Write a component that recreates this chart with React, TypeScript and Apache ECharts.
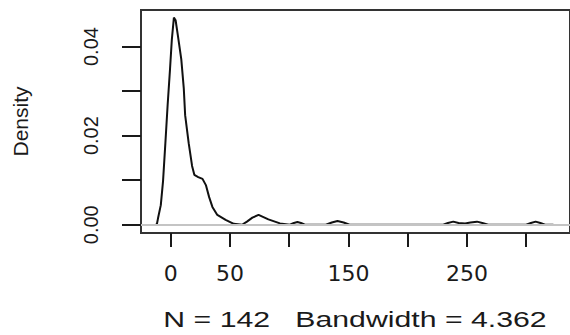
import React, { useEffect, useRef } from "react";
import * as echarts from "echarts";

// Kernel density estimate (x in data units, y = density)
const densityX = [
  -13, -11.7, -10.6, -8.3, -6.4, -4.4, -2.5, -0.5, 1, 2.75, 4.2, 6.1, 9, 11.1,
  12.25, 15.25, 18.1, 20, 23.3, 26.9, 29.75, 32.5, 35.25, 39.4, 46.4, 53.3,
  60.25, 64.4, 69, 74.2, 82.5, 92.25, 100.6, 104, 107, 110, 113.3, 131, 136,
  140.8, 146, 151, 230, 234, 238.5, 243, 248.5, 253, 258.5, 263, 268, 300, 304,
  308, 312, 316, 323,
];
const densityY = [
  0, 0, 0.0015, 0.0044, 0.0098, 0.0185, 0.027, 0.035, 0.0415, 0.0465, 0.0459,
  0.0425, 0.0371, 0.0306, 0.0246, 0.0183, 0.0132, 0.0112, 0.0107, 0.0103,
  0.0089, 0.0062, 0.004, 0.0022, 0.0011, 0.0002, 0, 0.0007, 0.0016, 0.0022,
  0.0012, 0.0003, 0, 0.0004, 0.0006, 0.0004, 0, 0, 0.0005, 0.00085, 0.0005, 0,
  0, 0.0004, 0.0007, 0.0004, 0.0003, 0.0005, 0.0007, 0.0004, 0, 0, 0.0004,
  0.0007, 0.0004, 0, 0,
];

const xTicks = [0, 50, 100, 150, 200, 250, 300];
const xTickLabels = [0, 50, 150, 250];
const yTicks = [0, 0.01, 0.02, 0.03, 0.04];
const yTickLabels = [0, 0.02, 0.04];

const yTitle = "Density";
const subTitle = "N = 142   Bandwidth = 4.362";

export default function App() {
  const ref = useRef<HTMLDivElement>(null);

  useEffect(() => {
    document.body.style.margin = "0";
    if (!ref.current) return;
    const chart = echarts.init(ref.current, null, { renderer: "svg" });
    const data = densityX.map((x, i) => [x, densityY[i]]);
    const ink = "#1a1a1a";
    chart.setOption({
      animation: false,
      backgroundColor: "#ffffff",
      grid: {
        left: 141,
        top: 10,
        right: -5,
        bottom: 102,
        show: true,
        borderColor: "#333333",
        borderWidth: 2,
        containLabel: false,
      },
      xAxis: {
        type: "value",
        min: -25,
        max: 337,
        splitLine: { show: false },
        axisLine: { show: false, onZero: false },
        axisTick: {
          show: true,
          length: 14,
          customValues: xTicks,
          lineStyle: { color: ink, width: 2 },
        },
        axisLabel: {
          customValues: xTickLabels,
          margin: 29,
          fontFamily: "DejaVu Sans",
          fontSize: 22,
          color: ink,
        },
      },
      yAxis: {
        type: "value",
        min: -0.00185,
        max: 0.0482,
        splitLine: { show: false },
        axisLine: { show: false, onZero: false },
        name: yTitle,
        nameLocation: "middle",
        nameRotate: 90,
        nameGap: 110,
        nameTextStyle: {
          fontFamily: "Liberation Sans",
          fontSize: 21,
          color: ink,
        },
        axisTick: {
          show: true,
          length: 19,
          customValues: yTicks,
          lineStyle: { color: ink, width: 2 },
        },
        axisLabel: {
          customValues: yTickLabels,
          rotate: 90,
          margin: 40,
          fontFamily: "Liberation Sans",
          fontSize: 20,
          color: ink,
          formatter: (v: number) => v.toFixed(2),
        },
      },
      graphic: [
        {
          type: "text",
          x: 355,
          y: 320,
          scaleX: 1.375,
          style: {
            text: subTitle,
            fontFamily: "Liberation Sans",
            fontSize: 22,
            fill: ink,
            textAlign: "center",
            textVerticalAlign: "middle",
          },
        },
      ],
      series: [
        {
          type: "line",
          data,
          z: 2,
          showSymbol: false,
          symbol: "none",
          lineStyle: { color: "#111111", width: 2 },
          markLine: {
            silent: true,
            z: 10,
            symbol: ["none", "none"],
            label: { show: false },
            lineStyle: { color: "#c4c4c4", width: 2.2, type: "solid" },
            data: [{ yAxis: 0 }],
          },
        },
      ],
    });
    return () => chart.dispose();
  }, []);

  return <div ref={ref} style={{ width: 570, height: 335 }} />;
}
